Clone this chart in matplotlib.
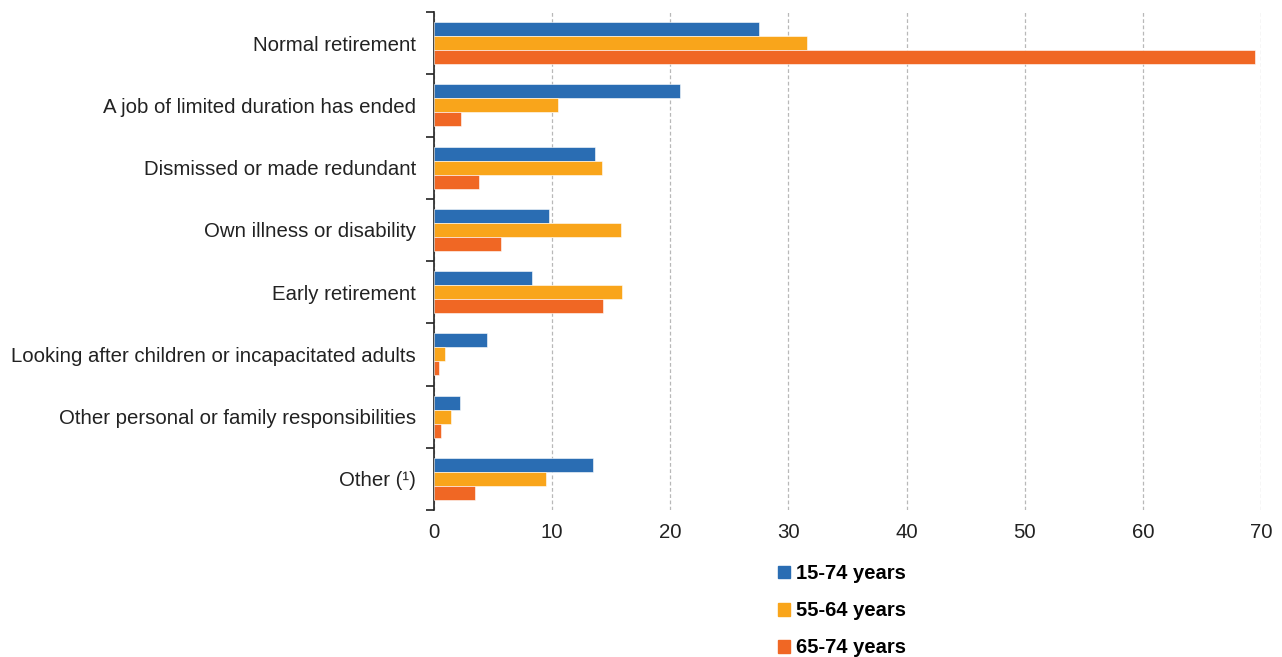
import numpy as np
import matplotlib.pyplot as plt
from matplotlib.patches import Patch

categories = ['Normal retirement', 'A job of limited duration has ended',
              'Dismissed or made redundant', 'Own illness or disability',
              'Early retirement', 'Looking after children or incapacitated adults',
              'Other personal or family responsibilities', 'Other (\u00b9)']
series_names = ['15-74 years', '55-64 years', '65-74 years']
v_15_74 = [27.5, 20.8, 13.6, 9.7, 8.3, 4.5, 2.2, 13.5]
v_55_64 = [31.6, 10.5, 14.2, 15.8, 15.9, 0.9, 1.4, 9.5]
v_65_74 = [69.5, 2.3, 3.8, 5.7, 14.3, 0.4, 0.6, 3.5]
colors = ['#2a6db3', '#f9a51b', '#f06724']

plt.rcParams.update({'font.family': ['Liberation Sans', 'DejaVu Sans'], 'font.size': 14.7})
fig = plt.figure(figsize=(12.82, 6.57), dpi=100)
ax = fig.add_axes([434/1282, 1-510/657, (1261-434)/1282, (510-12)/657])

y = np.arange(len(categories))
h = 0.225
for i, vals in enumerate([v_15_74, v_55_64, v_65_74]):
    ax.barh(y + (i-1)*h, vals, height=h, color=colors[i], edgecolor='white',
            linewidth=0.4, zorder=3)

ax.set_ylim(len(categories)-0.5, -0.5)
ax.set_xlim(0, 70)
ax.set_xticks(range(0, 71, 10))
ax.set_yticks(y)
ax.set_yticklabels(categories, fontsize=14.7, color='#222222')
ax.set_yticks(np.arange(-0.5, len(categories)), minor=True)
ax.tick_params(axis='y', which='major', length=0, pad=13)
ax.tick_params(axis='y', which='minor', length=6, width=1.2, color='#222222')
ax.tick_params(axis='x', length=0, pad=9, labelsize=14.7, labelcolor='#222222')
ax.grid(axis='x', linestyle=(0, (3, 2)), color='#b8b8b8', linewidth=0.9, zorder=0)
for s in ['top', 'right', 'bottom']:
    ax.spines[s].set_visible(False)
ax.spines['left'].set_linewidth(1.2)
ax.spines['left'].set_color('#222222')

handles = [Patch(color=c) for c in colors]
fig.legend(handles, series_names, loc='upper left', bbox_to_anchor=(760/1282, 1-546/657),
           frameon=False, handlelength=0.6, handleheight=0.6, handletextpad=0.3,
           labelspacing=0.9, prop={'weight': 'bold', 'size': 14.5})

fig.savefig('out.png', dpi=100)
